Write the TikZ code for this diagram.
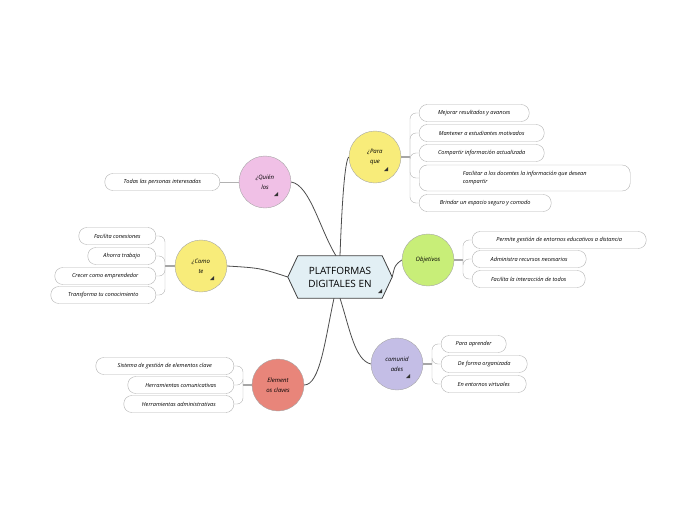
\documentclass[tikz,border=0pt]{standalone}
\usepackage{fontspec}
\setsansfont{Open Sans}
\usetikzlibrary{shapes.misc,calc}
\definecolor{pk}{HTML}{F0C0E6}
\definecolor{yl}{HTML}{F8EC7A}
\definecolor{gr}{HTML}{C8EE78}
\definecolor{pu}{HTML}{C4BEE6}
\definecolor{sa}{HTML}{E8857A}
\definecolor{hx}{HTML}{E2EFF4}
\tikzset{
 circ/.style={circle,draw=gray!70,minimum size=52pt,inner sep=1pt,align=center,font=\fontsize{6}{10}\sffamily\itshape},
 leaf/.style={rounded corners=8pt,draw=gray!60,minimum height=17pt,inner sep=2pt,font=\fontsize{5.6}{8}\sffamily\itshape,align=left},
 main/.style={draw=black!70,thick},
 br/.style={draw=gray!60,rounded corners=6pt},
 stub/.style={draw=gray!70,line width=1.2pt},
 mk/.style={fill=black!80}
}
\begin{document}
\begin{tikzpicture}[x=1pt,y=-1pt]
\useasboundingbox (0,0) rectangle (697,520);
\node[minimum width=104pt,minimum height=42pt,align=center,font=\fontsize{10}{13}\sffamily] (c) at (340,277) {};
\filldraw[draw=black!75,thick,fill=hx] (c.west) -- ($(c.north west)+(10,0)$) -- ($(c.north east)+(-10,0)$) -- (c.east) -- ($(c.south east)+(-10,0)$) -- ($(c.south west)+(10,0)$) -- cycle;
\node[align=center,font=\fontsize{10}{13}\sffamily] at (c) {PLATFORMAS\\DIGITALES EN};
\node[circ,fill=pk] (q) at (265,182) {¿Quién\\los};
\node[circ,fill=yl] (p) at (375,157) {¿Para\\que};
\node[circ,fill=gr] (o) at (428,260) {Objetivos};
\node[circ,fill=yl] (t) at (201,266) {¿Como\\te};
\node[circ,fill=pu] (m) at (397,364) {comunid\\ades};
\node[circ,fill=sa] (e) at (278,385) {Element\\os claves};
\fill[mk] (382,289) -- ++(-4,4) -- ++(4,0) -- cycle;
\foreach \n/\x/\y in {q/278/192,p/388/167,t/214/276,m/410/374}{\fill[mk] (\x,\y) -- ++(-4,4) -- ++(4,0) -- cycle;}
\draw[main] (c.north) ++(-4,0) .. controls (320,230) and (310,185) .. (q.east);
\draw[main] (c.north) .. controls (342,200) and (345,160) .. (p.west);
\draw[main] (c.east) .. controls (395,265) .. (o.west);
\draw[main] (c.west) .. controls (260,268) .. (t.east);
\draw[main] (c.south) .. controls (350,330) and (355,360) .. (m.west);
\draw[main] (c.south) ++(-6,0) .. controls (325,340) and (320,385) .. (e.east);
% Para que leaves
\node[leaf,anchor=west,minimum width=110pt] (p1) at (419,113) {Mejorar resultados y avances};
\node[leaf,anchor=west,minimum width=125pt] (p2) at (419,133) {Mantener a estudiantes motivados};
\node[leaf,anchor=west,minimum width=125pt] (p3) at (419,153) {Compartir información actualizada};
\node[leaf,anchor=west,minimum width=211pt,minimum height=26pt,inner xsep=16pt] (p4) at (419,178) {Facilitar a los docentes la información que desean\\compartir};
\node[leaf,anchor=west,minimum width=132pt] (p5) at (419,203) {Brindar un espacio seguro y comodo};
\draw[stub] (p.east) -- (410,157);
\foreach \l in {p1,p2,p3,p4,p5}{\draw[br] (410,157) |- (\l.west);}
% Objetivos
\node[leaf,anchor=west,minimum width=174pt] (o1) at (472,240) {Permite gestión de entornos educativos a distancia};
\node[leaf,anchor=west,minimum width=114pt] (o2) at (472,259) {Administra recursos necesarios};
\node[leaf,anchor=west,minimum width=113pt] (o3) at (472,279) {Facilita la interacción de todos};
\draw[stub] (o.east) -- (463,260);
\foreach \l in {o1,o2,o3}{\draw[br] (463,260) |- (\l.west);}
% Quien
\node[leaf,anchor=east,minimum width=115pt] (q1) at (220,182) {Todas las personas interesadas};
\draw[gray!60] (q.west) -- (q1.east);
% Como te
\node[leaf,anchor=east,minimum width=77pt] (t1) at (156,236) {Facilita conexiones};
\node[leaf,anchor=east,minimum width=68pt] (t2) at (156,256) {Ahorra trabajo};
\node[leaf,anchor=east,minimum width=101pt] (t3) at (156,276) {Crecer como emprendedor};
\node[leaf,anchor=east,minimum width=105pt] (t4) at (156,295) {Transforma tu conocimiento};
\draw[stub] (t.west) -- (165,266);
\foreach \l in {t1,t2,t3,t4}{\draw[br] (165,266) |- (\l.east);}
% Elementos
\node[leaf,anchor=east,minimum width=138pt] (e1) at (234,366) {Sistema de gestión de elementos clave};
\node[leaf,anchor=east,minimum width=106pt] (e2) at (234,385) {Herramientas comunicativas};
\node[leaf,anchor=east,minimum width=110pt] (e3) at (234,404) {Herramientas administrativas};
\draw[stub] (e.west) -- (243,385);
\foreach \l in {e1,e2,e3}{\draw[br] (243,385) |- (\l.east);}
% comunidades
\node[leaf,anchor=west,minimum width=65pt] (m1) at (441,344) {Para aprender};
\node[leaf,anchor=west,minimum width=86pt] (m2) at (441,364) {De forma organizada};
\node[leaf,anchor=west,minimum width=85pt] (m3) at (441,384) {En entornos virtuales};
\draw[stub] (m.east) -- (432,364);
\foreach \l in {m1,m2,m3}{\draw[br] (432,364) |- (\l.west);}
\end{tikzpicture}
\end{document}
